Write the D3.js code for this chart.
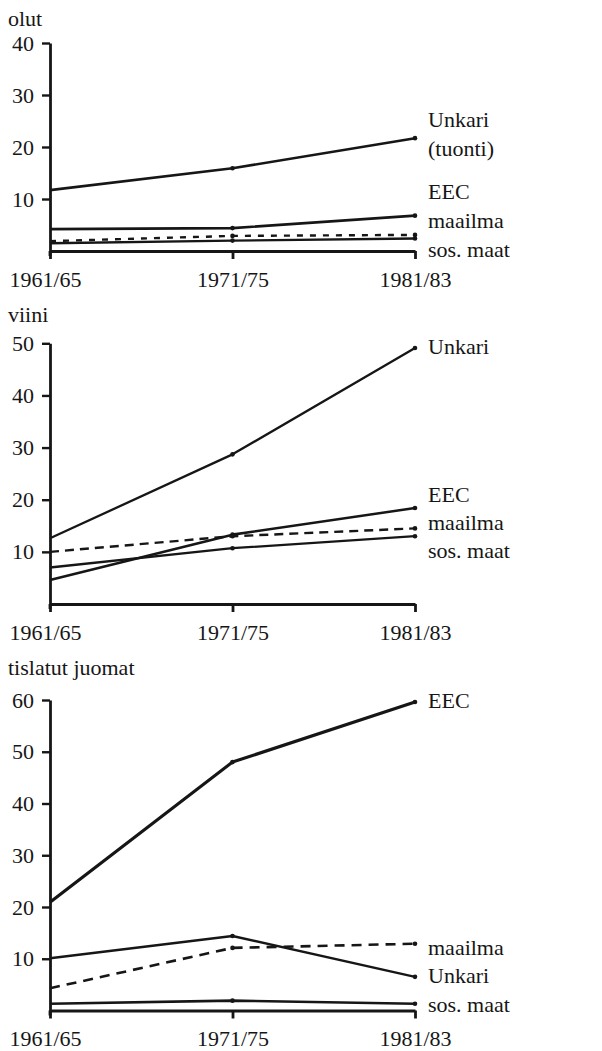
<!DOCTYPE html>
<html>
<head>
<meta charset="utf-8">
<script src="https://cdn.jsdelivr.net/npm/d3@7/dist/d3.min.js"></script>
<style>
body { margin: 0; background: #fff; }
</style>
</head>
<body>
<div id="chart"></div>
<script>
// Periods on the x axis
var periods = ["1961/65", "1971/75", "1981/83"];

// olut (beer)
var olutUnkari = [11.7, 15.9, 21.7];
var olutEEC = [4.2, 4.4, 6.8];
var olutMaailma = [1.9, 2.9, 3.1];
var olutSos = [1.5, 2.0, 2.4];
var olutTicks = [10, 20, 30, 40];

// viini (wine)
var viiniUnkari = [12.6, 28.7, 49.1];
var viiniEEC = [4.6, 13.3, 18.4];
var viiniMaailma = [10.0, 13.0, 14.5];
var viiniSos = [7.0, 10.7, 13.0];
var viiniTicks = [10, 20, 30, 40, 50];

// tislatut juomat (spirits)
var tislEEC = [20.9, 48.0, 59.6];
var tislUnkari = [10.1, 14.4, 6.5];
var tislMaailma = [4.3, 12.1, 12.9];
var tislSos = [1.3, 1.9, 1.3];
var tislTicks = [10, 20, 30, 40, 50, 60];

var W = 602, H = 1051;
var FONT = '"Liberation Serif", "Times New Roman", serif';
var INK = '#161616';

var svg = d3.select('#chart')
    .append('svg')
    .attr('width', W)
    .attr('height', H)
    .style('font-family', FONT);

var x_scale = d3.scalePoint()
    .domain(periods)
    .range([50, 415]);

// one entry per panel; pixel layout lives here, values come from the arrays above
var panels = [
    {
        title: "olut", titleY: 26, top: 43, bottom: 251, ticks: olutTicks,
        series: [
            { values: olutUnkari, width: 2.6 },
            { values: olutEEC, width: 2.6 },
            { values: olutMaailma, width: 2.4, dash: "6,7" },
            { values: olutSos, width: 2.4 }
        ],
        labels: [["Unkari", 127], ["(tuonti)", 156], ["EEC", 199], ["maailma", 228], ["sos. maat", 256.5]]
    },
    {
        title: "viini", titleY: 321.5, top: 343.3, bottom: 604, ticks: viiniTicks,
        series: [
            { values: viiniUnkari, width: 2.3 },
            { values: viiniEEC, width: 2.6 },
            { values: viiniMaailma, width: 2.4, dash: "9,6" },
            { values: viiniSos, width: 2.3 }
        ],
        labels: [["Unkari", 354], ["EEC", 501.5], ["maailma", 530], ["sos. maat", 558.3]]
    },
    {
        title: "tislatut juomat", titleY: 675, top: 700, bottom: 1010.5, ticks: tislTicks,
        series: [
            { values: tislEEC, width: 3.2 },
            { values: tislUnkari, width: 2.4 },
            { values: tislMaailma, width: 2.6, dash: "10,7" },
            { values: tislSos, width: 2.6 }
        ],
        labels: [["EEC", 708.3], ["maailma", 955], ["Unkari", 983.3], ["sos. maat", 1011.7]]
    }
];

function styleText(sel) {
    sel.attr('font-family', null)
        .attr('font-size', null)
        .attr('fill', null)
        .style('font-family', FONT)
        .style('font-size', '22px')
        .style('fill', INK);
}

panels.forEach(function(p) {

    var maxTick = d3.max(p.ticks);

    var y_scale = d3.scaleLinear()
        .domain([0, maxTick])
        .range([p.bottom, p.top]);

    var g = svg.append('g');

    // panel title
    g.append('text')
        .attr('x', 8)
        .attr('y', p.titleY)
        .text(p.title)
        .call(styleText);

    // y axis
    var y_axis = d3.axisLeft(y_scale)
        .tickValues(p.ticks)
        .tickSize(8)
        .tickSizeOuter(0)
        .tickPadding(8)
        .tickFormat(d3.format('d'));

    var ya = g.append('g')
        .attr('transform', 'translate(' + x_scale(periods[0]) + ',0)')
        .call(y_axis);

    ya.select('.domain')
        .attr('stroke', INK)
        .attr('stroke-width', 2.8);
    ya.selectAll('.tick line')
        .attr('stroke', INK)
        .attr('stroke-width', 2.4);
    ya.selectAll('.tick text').call(styleText);

    // small extension of y axis below the x axis
    g.append('line')
        .attr('x1', x_scale(periods[0]))
        .attr('x2', x_scale(periods[0]))
        .attr('y1', y_scale(0))
        .attr('y2', y_scale(0) + 5)
        .attr('stroke', INK)
        .attr('stroke-width', 2.8);

    // x axis
    var x_axis = d3.axisBottom(x_scale)
        .tickSize(8)
        .tickSizeOuter(0)
        .tickPadding(12);

    var xa = g.append('g')
        .attr('transform', 'translate(0,' + y_scale(0) + ')')
        .call(x_axis);

    xa.select('.domain')
        .attr('stroke', INK)
        .attr('stroke-width', 2.8);
    xa.selectAll('.tick line')
        .attr('stroke', INK)
        .attr('stroke-width', 2.8);
    xa.selectAll('.tick text')
        .call(styleText)
        .attr('dx', function(d, i) { return i === 0 ? -5 : 0; });

    // series lines
    var line = d3.line()
        .x(function(d, i) { return x_scale(periods[i]); })
        .y(function(d) { return y_scale(d); });

    p.series.forEach(function(s) {
        g.append('path')
            .datum(s.values)
            .attr('d', line)
            .attr('fill', 'none')
            .attr('stroke', INK)
            .attr('stroke-width', s.width)
            .attr('stroke-dasharray', s.dash || null)
            .attr('stroke-linejoin', 'round');

        g.selectAll(null)
            .data(s.values.slice(1))
            .enter()
            .append('circle')
            .attr('cx', function(d, i) { return x_scale(periods[i + 1]); })
            .attr('cy', function(d) { return y_scale(d); })
            .attr('r', 2.3)
            .attr('fill', INK);
    });

    // end labels
    g.selectAll('.lbl')
        .data(p.labels)
        .enter()
        .append('text')
        .attr('class', 'lbl')
        .attr('x', 428)
        .attr('y', function(d) { return d[1]; })
        .text(function(d) { return d[0]; })
        .call(styleText);
});
</script>
</body>
</html>
